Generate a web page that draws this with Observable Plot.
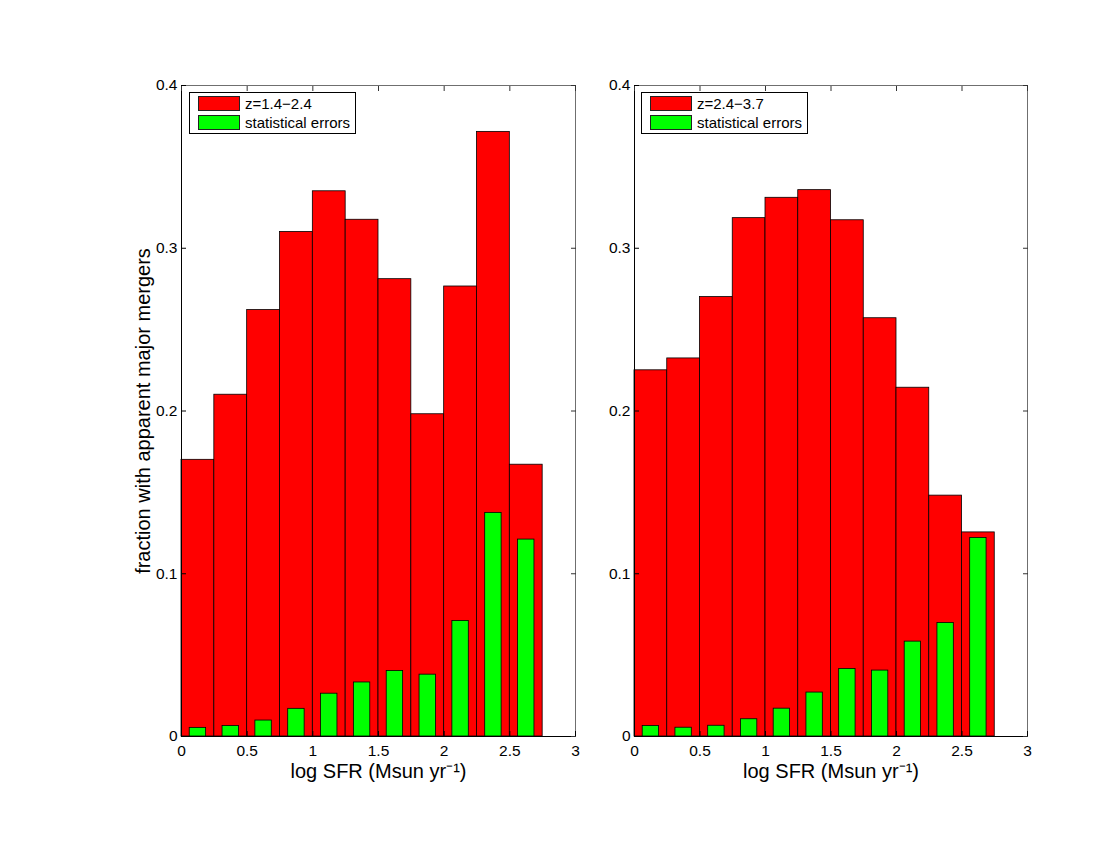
<!DOCTYPE html>
<html>
<head>
<meta charset="utf-8">
<script src="https://cdn.jsdelivr.net/npm/d3@7"></script>
<script src="https://cdn.jsdelivr.net/npm/@observablehq/plot@0.6"></script>
<style>
  body { margin: 0; background: #fff; font-family: "Liberation Sans", Arial, Helvetica, sans-serif; }
  #wrap { position: relative; width: 1100px; height: 850px; overflow: hidden; }
  .panel { position: absolute; top: 0; }
  .legend { position: absolute; box-sizing: border-box; border: 1px solid #000; background: #fff; height: 42px; }
  .sw { position: absolute; box-sizing: border-box; width: 42px; height: 15px; border: 1px solid #222; left: 8px; }
  .lt { position: absolute; left: 55px; font-size: 15px; line-height: 15px; color: #000; white-space: nowrap; }
</style>
</head>
<body>
<div id="wrap"></div>
<script>
// ---- data ----
const binCenters = [0.125, 0.375, 0.625, 0.875, 1.125, 1.375, 1.625, 1.875, 2.125, 2.375, 2.625];
const binWidth = 0.25;
const errorBarWidth = 0.125;
const lowZFraction  = [0.170, 0.210, 0.262, 0.310, 0.335, 0.3175, 0.281, 0.198, 0.2765, 0.3715, 0.167];
const lowZError     = [0.0053, 0.0064, 0.0098, 0.017, 0.0263, 0.0332, 0.0402, 0.038, 0.071, 0.1374, 0.121];
const highZFraction = [0.225, 0.2323, 0.270, 0.3185, 0.331, 0.3357, 0.3172, 0.257, 0.2143, 0.148, 0.1254];
const highZError    = [0.0065, 0.0054, 0.0066, 0.0106, 0.0171, 0.027, 0.0415, 0.0405, 0.0583, 0.0697, 0.122];
const xTicks = [0, 0.5, 1, 1.5, 2, 2.5, 3];
const yTicks = [0, 0.1, 0.2, 0.3, 0.4];
const panelLabels = ["z=1.4\u22122.4", "z=2.4\u22123.7"];
const errorLabel = "statistical errors";
const xLabel = "log SFR (Msun yr\u207B\u00B9)";
const yLabel = "fraction with apparent major mergers";
const barColor = "#ff0000";
const errColor = "#00ff00";

const wrap = document.getElementById("wrap");

function panel(fraction, errors, cfg) {
  const data = binCenters.map((c, i) => ({c, f: fraction[i], e: errors[i]}));
  const marks = [
    Plot.rectY(data, {x1: d => d.c - binWidth / 2, x2: d => d.c + binWidth / 2, y1: 0, y2: "f",
      fill: barColor, stroke: "#000", strokeWidth: 0.8}),
    Plot.rectY(data, {x1: d => d.c - errorBarWidth / 2, x2: d => d.c + errorBarWidth / 2, y1: 0, y2: "e",
      fill: errColor, stroke: "#000", strokeWidth: 0.8}),
    Plot.frame({stroke: "#6f6f6f", strokeWidth: 1}),
    Plot.ruleY([0], {stroke: "#000", strokeWidth: 1}),
    Plot.ruleX([0], {stroke: "#000", strokeWidth: 1}),
    Plot.axisX(xTicks, {anchor: "bottom", tickSize: 0, tickPadding: 8, tickFormat: d => String(d), label: null, fontSize: 15.5}),
    Plot.axisX(xTicks, {anchor: "bottom", tickSize: 5, dy: -5, tickFormat: () => "", label: null, stroke: "#000"}),
    Plot.axisX(xTicks, {anchor: "top", tickSize: 5, dy: 5, tickFormat: () => "", label: null, stroke: "#333"}),
    Plot.axisY(yTicks, {anchor: "left", tickSize: 0, tickPadding: 4, tickFormat: d => String(d), label: null, fontSize: 15.5}),
    Plot.axisY(yTicks, {anchor: "left", tickSize: 5, dx: 5, tickFormat: () => "", label: null, stroke: "#000"}),
    Plot.axisY(yTicks, {anchor: "right", tickSize: 5, dx: -5, tickFormat: () => "", label: null, stroke: "#333"}),
    Plot.text([xLabel], {frameAnchor: "bottom", textAnchor: "middle", dy: 41, fontSize: 20, fill: "#000"})
  ];
  if (cfg.showYLabel) {
    marks.push(Plot.text([yLabel], {frameAnchor: "left", textAnchor: "middle", dx: -37.5, rotate: -90, fontSize: 20, fill: "#000"}));
  }
  const svg = Plot.plot({
    width: cfg.width,
    height: 850,
    marginLeft: cfg.marginLeft,
    marginRight: cfg.marginRight,
    marginTop: 85,
    marginBottom: 114,
    style: {fontFamily: "'Liberation Sans', Arial, Helvetica, sans-serif", fontSize: "15.5px", color: "#000", background: "transparent", overflow: "visible"},
    x: {domain: [0, 3]},
    y: {domain: [0, 0.4]},
    marks
  });
  svg.classList.add("panel");
  svg.style.left = cfg.left + "px";
  wrap.appendChild(svg);

  const lg = document.createElement("div");
  lg.className = "legend";
  lg.style.left = cfg.legendLeft + "px";
  lg.style.top = "92px";
  lg.style.width = "167px";
  [[barColor, cfg.label, 3], [errColor, errorLabel, 22]].forEach(([col, txt, top]) => {
    const sw = document.createElement("div");
    sw.className = "sw";
    sw.style.background = col;
    sw.style.top = top + "px";
    lg.appendChild(sw);
    const t = document.createElement("div");
    t.className = "lt";
    t.style.top = (top) + "px";
    t.textContent = txt;
    lg.appendChild(t);
  });
  wrap.appendChild(lg);
}

panel(lowZFraction, lowZError, {left: 0, width: 600, marginLeft: 181, marginRight: 25, showYLabel: true, label: panelLabels[0], legendLeft: 189});
panel(highZFraction, highZError, {left: 600, width: 500, marginLeft: 34, marginRight: 73, showYLabel: false, label: panelLabels[1], legendLeft: 641});
</script>
</body>
</html>
